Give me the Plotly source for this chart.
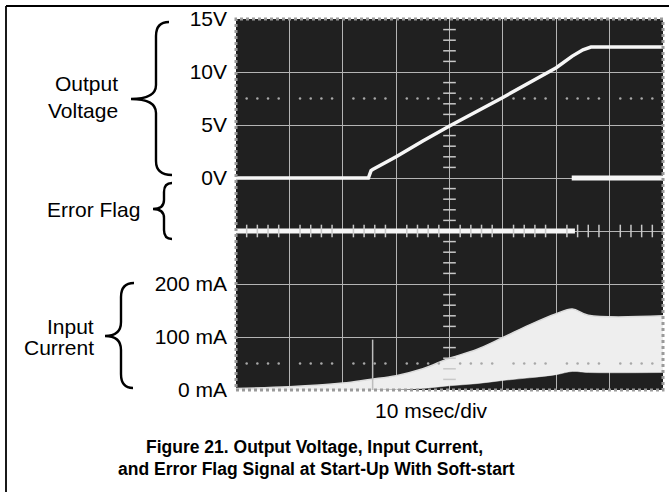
import plotly.graph_objects as go

# ---------------- data ----------------
# Output voltage (V) vs time (ms)
volt_t = [0, 24.8, 25.3, 25.6, 30, 35, 40, 50, 60, 63, 65, 66.5, 80]
volt_v = [0, 0, 0.7, 0.8, 2.0, 3.5, 4.9, 7.6, 10.4, 11.5, 12.1, 12.35, 12.35]

# Error flag (0 = low, 1 = high)
flag_t = [0, 63.5, None, 62.9, 80]
flag_v = [0, 0, None, 1, 1]

# Input current envelope (mA)
cur_t = [0, 10, 20, 25, 30, 35, 40, 45, 50, 55, 60, 63, 66, 80]
cur_upper = [3, 6, 13, 20, 27, 40, 60, 76, 99, 123, 144, 153, 141, 140]
cur_lower = [0, 0, 0, 0, 1, 3, 8, 12, 18, 23, 29, 35, 33, 33]

# inrush spike at ramp start
spike_t = [25.6, 25.6]
spike_i = [0, 95]

volt_ticks = [0, 5, 10, 15]
volt_ticktext = ["0V", "5V", "10V", "15V"]
cur_ticks = [0, 100, 200]
cur_ticktext = ["0 mA", "100 mA", "200 mA"]

# ---------------- geometry ----------------
W, H = 669, 492
SX0, SX1, SY0, SY1 = 236, 663, 19, 390  # screen box in pixels


def px(x):
    return x / W


def py(y):
    return 1 - y / H


LABEL_FONT = dict(family="Liberation Sans, Arial, sans-serif", size=21, color="black")
CAP_FONT = dict(family="Liberation Sans, Arial, sans-serif", size=17.5, color="black")
GRID = "#b4b4b4"
TRACE = "#f6f6f6"
BAND = "#eeeeee"

fig = go.Figure()

# graticule decorations (on division axis y4: 0..7)
n_div_x = 8
dot_x, dot_y = [], []
for d in [0.5, 5.5]:
    for k in range(n_div_x * 5 + 1):
        if k % 5:
            dot_x.append(k * 2)
            dot_y.append(d)
fig.add_trace(go.Scatter(x=dot_x, y=dot_y, yaxis="y4", mode="markers",
                         marker=dict(color="#a8a8a8", size=2.5), hoverinfo="skip"))
tick_v_y = [k * 0.2 for k in range(0, 36) if k % 5]
fig.add_trace(go.Scatter(x=[40] * len(tick_v_y), y=tick_v_y, yaxis="y4", mode="markers",
                         marker=dict(symbol="line-ew", size=9, line=dict(color="#c8c8c8", width=1.5)),
                         hoverinfo="skip"))
tick_h_x = [k * 2 for k in range(0, 41) if k % 5]
fig.add_trace(go.Scatter(x=tick_h_x, y=[3] * len(tick_h_x), yaxis="y4", mode="markers",
                         marker=dict(symbol="line-ns", size=9, line=dict(color="#c8c8c8", width=1.5)),
                         hoverinfo="skip"))

# input current band
fig.add_trace(go.Scatter(x=cur_t, y=cur_lower, yaxis="y2", mode="lines",
                         line=dict(color=BAND, width=0.5, shape="spline"), hoverinfo="skip"))
fig.add_trace(go.Scatter(x=cur_t, y=cur_upper, yaxis="y2", mode="lines", fill="tonexty",
                         fillcolor=BAND,
                         line=dict(color="#dcdcdc", width=1.5, shape="spline"), hoverinfo="skip"))
fig.add_trace(go.Scatter(x=spike_t, y=spike_i, yaxis="y2", mode="lines",
                         line=dict(color="#bdbdbd", width=1.5), hoverinfo="skip"))

# error flag
fig.add_trace(go.Scatter(x=flag_t, y=flag_v, yaxis="y3", mode="lines",
                         line=dict(color=TRACE, width=5), hoverinfo="skip"))

# output voltage
fig.add_trace(go.Scatter(x=volt_t, y=volt_v, yaxis="y", mode="lines",
                         line=dict(color=TRACE, width=3.5), hoverinfo="skip"))

dom_x = [px(SX0), px(SX1)]
dom_y = [py(SY1), py(SY0)]

fig.update_layout(
    width=W, height=H,
    margin=dict(l=0, r=0, t=0, b=0),
    paper_bgcolor="white",
    plot_bgcolor="#202020",
    showlegend=False,
    xaxis=dict(domain=dom_x, range=[0, 80], dtick=10, tick0=0, showgrid=True,
               gridcolor=GRID, gridwidth=1.3, zeroline=False, showticklabels=False,
               showline=False, ticks="", fixedrange=True),
    yaxis=dict(domain=dom_y, range=[-20, 15], tickvals=volt_ticks, ticktext=volt_ticktext,
               showgrid=False, zeroline=False, ticks="", tickfont=LABEL_FONT,
               ticklabelstandoff=8, anchor="x", automargin=False),
    yaxis2=dict(overlaying="y", anchor="x", side="left", range=[0, 700], tickvals=cur_ticks,
                ticktext=cur_ticktext, showgrid=False, zeroline=False, ticks="",
                tickfont=LABEL_FONT, ticklabelstandoff=8, automargin=False),
    yaxis3=dict(overlaying="y", anchor="x", range=[-3, 4], visible=False),
    yaxis4=dict(overlaying="y", anchor="x", range=[0, 7], dtick=1, tick0=0, showgrid=True,
                gridcolor=GRID, gridwidth=1.3, zeroline=False, showticklabels=False,
                ticks=""),
)

shapes = []
# screen border
shapes.append(dict(type="rect", xref="paper", yref="paper",
                   x0=px(SX0), x1=px(SX1), y0=py(SY1), y1=py(SY0),
                   line=dict(color="#9a9a9a", width=3, dash="dot"), layer="above"))
# page frame: top and left lines
shapes.append(dict(type="line", xref="paper", yref="paper", x0=px(6), x1=1, y0=py(6), y1=py(6),
                   line=dict(color="black", width=1.8)))
shapes.append(dict(type="line", xref="paper", yref="paper", x0=px(6), x1=px(6), y0=py(6), y1=0,
                   line=dict(color="black", width=1.8)))


def brace(xt, yt, xs, xtip, ym, xb, yb, r):
    pts = [
        f"M {px(xt)},{py(yt)}",
        f"Q {px(xs)},{py(yt)} {px(xs)},{py(yt + r)}",
        f"L {px(xs)},{py(ym - r)}",
        f"Q {px(xs)},{py(ym)} {px(xtip)},{py(ym)}",
        f"Q {px(xs)},{py(ym)} {px(xs)},{py(ym + r)}",
        f"L {px(xs)},{py(yb - r)}",
        f"Q {px(xs)},{py(yb)} {px(xb)},{py(yb)}",
    ]
    return dict(type="path", xref="paper", yref="paper", path=" ".join(pts),
                line=dict(color="black", width=2.4))


shapes.append(brace(169, 22, 156, 131, 99, 172, 175, 14))
shapes.append(brace(172, 183, 164, 153, 209, 172, 239, 9))
shapes.append(brace(134, 283, 121, 105, 336, 133, 388, 14))
fig.update_layout(shapes=shapes)

ann = []


def label(text, x, y, xanchor="right", font=LABEL_FONT):
    ann.append(dict(text=text, x=px(x), y=py(y), xref="paper", yref="paper",
                    xanchor=xanchor, yanchor="middle", showarrow=False, font=font))


label("Output", 120, 83)
label("Voltage", 120, 110)
label("Error Flag", 142, 210)
label("Input", 96, 326)
label("Current", 96, 347)
label("10 msec/div", 431, 410, xanchor="center")
label("<b>Figure 21. Output Voltage, Input Current,</b>", 314, 447, xanchor="center", font=CAP_FONT)
label("<b>and Error Flag Signal at Start-Up With Soft-start</b>", 316, 469, xanchor="center", font=CAP_FONT)
fig.update_layout(annotations=ann)

fig.write_html(
    "out.html",
    config={"displayModeBar": False},
    post_script="document.body.style.margin='0';document.body.style.overflow='hidden';",
)
